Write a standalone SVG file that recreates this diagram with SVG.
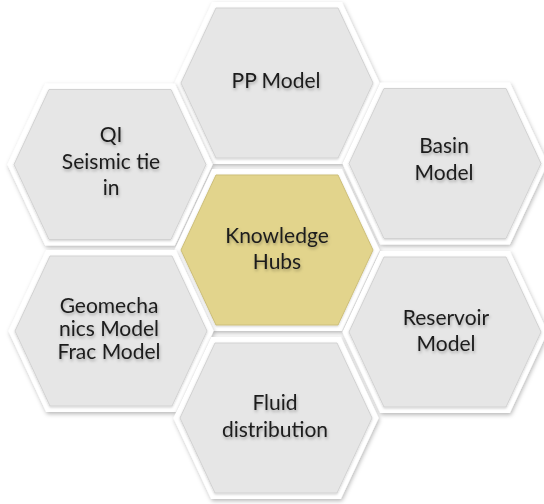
<svg xmlns="http://www.w3.org/2000/svg" xmlns:xlink="http://www.w3.org/1999/xlink" width="544" height="504" viewBox="0 0 544 504">
  <defs>
    <filter id="hexShadow" x="-20%" y="-20%" width="140%" height="140%">
      <feDropShadow dx="1" dy="2" stdDeviation="2" flood-color="#000" flood-opacity="0.28"/>
    </filter>
    <filter id="innerShade" x="-10%" y="-10%" width="120%" height="120%">
      <feDropShadow dx="0" dy="1" stdDeviation="1.2" flood-color="#000" flood-opacity="0.18"/>
    </filter>
    <filter id="textShadow" x="-20%" y="-30%" width="140%" height="160%">
      <feDropShadow dx="0.8" dy="2" stdDeviation="1.4" flood-color="#000" flood-opacity="0.28"/>
    </filter>
    <polygon id="hexOuter" points="-102.6,0 -64.8,-81 64.8,-81 102.6,0 64.8,81 -64.8,81"/>
    <polygon id="hexInner" points="-96,0 -61,-75 61,-75 96,0 61,75 -61,75"/>
  </defs>
  <style>
    .outer { fill: #ffffff; filter: url(#hexShadow); }
    .inner { fill: #e6e6e6; stroke: #d2d2d2; stroke-width: 1; filter: url(#innerShade); }
    .hub { fill: #e2d48c; stroke: #cdbf7a; }
    .lbl { font-family: Lato, "Liberation Sans", sans-serif; font-size: 21px; fill: #1c1c1c; text-anchor: middle; filter: url(#textShadow); }
  </style>
  <rect width="544" height="504" fill="#ffffff"/>
  <g id="connectors"/>
  <g id="node-pp" transform="translate(277,83)">
    <use xlink:href="#hexOuter" class="outer"/>
    <use xlink:href="#hexInner" class="inner"/>
    <text class="lbl" x="-1" y="5">PP Model</text>
  </g>
  <g id="node-qi" transform="translate(110,164.5)">
    <use xlink:href="#hexOuter" class="outer"/>
    <use xlink:href="#hexInner" class="inner"/>
    <text class="lbl"><tspan x="1" y="-22.5">QI</tspan><tspan x="1" y="4.5">Seismic tie</tspan><tspan x="1" y="30.5">in</tspan></text>
  </g>
  <g id="node-basin" transform="translate(445,163.5)">
    <use xlink:href="#hexOuter" class="outer"/>
    <use xlink:href="#hexInner" class="inner"/>
    <text class="lbl"><tspan x="-1" y="-10.5">Basin</tspan><tspan x="-1" y="16.5">Model</tspan></text>
  </g>
  <g id="node-hub" transform="translate(277,250)">
    <use xlink:href="#hexOuter" class="outer"/>
    <use xlink:href="#hexInner" class="inner hub"/>
    <text class="lbl"><tspan x="0" y="-7">Knowledge</tspan><tspan x="0" y="19">Hubs</tspan></text>
  </g>
  <g id="node-geo" transform="translate(111,331)">
    <use xlink:href="#hexOuter" class="outer"/>
    <use xlink:href="#hexInner" class="inner"/>
    <text class="lbl"><tspan x="-2" y="-18">Geomecha</tspan><tspan x="-2" y="5">nics Model</tspan><tspan x="-2" y="28">Frac Model</tspan></text>
  </g>
  <g id="node-reservoir" transform="translate(445,332)">
    <use xlink:href="#hexOuter" class="outer"/>
    <use xlink:href="#hexInner" class="inner"/>
    <text class="lbl"><tspan x="1" y="-7">Reservoir</tspan><tspan x="1" y="19">Model</tspan></text>
  </g>
  <g id="node-fluid" transform="translate(276,418)">
    <use xlink:href="#hexOuter" class="outer"/>
    <use xlink:href="#hexInner" class="inner"/>
    <text class="lbl"><tspan x="-1" y="-8">Fluid</tspan><tspan x="-1" y="19">distribution</tspan></text>
  </g>
</svg>
